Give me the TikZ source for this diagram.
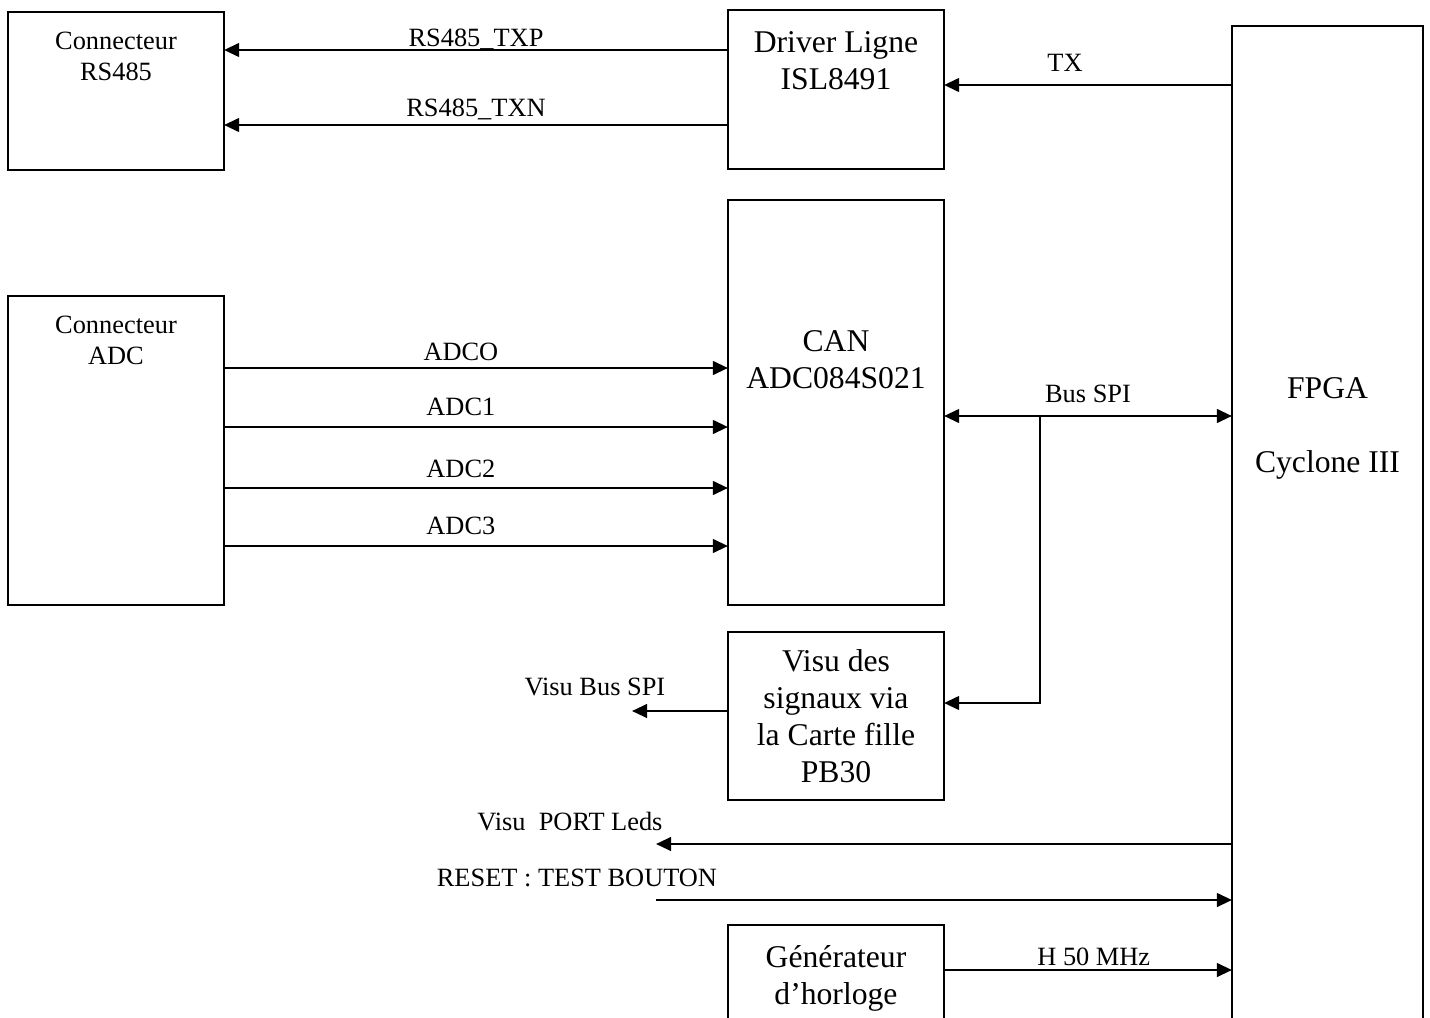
\documentclass[tikz,border=0pt]{standalone}
\usepackage{fontspec}
\setmainfont{Liberation Serif}
\usetikzlibrary{positioning, arrows.meta}

\begin{document}
\begin{tikzpicture}[
        x=0.01cm, y=-0.01cm,
        block/.style={draw, line width=0.6pt, inner sep=0pt, outer sep=0pt},
        bigtxt/.style={font=\fontsize{9}{10.5}\selectfont, align=center, inner sep=0pt},
        smalltxt/.style={font=\fontsize{7.5}{8.8}\selectfont, align=center, inner sep=0pt},
        sigtxt/.style={font=\fontsize{7.5}{8.8}\selectfont, inner sep=1pt},
        wire/.style={line width=0.65pt, -{Triangle[length=4.3pt, width=3.9pt]}},
        bus/.style={line width=0.65pt, {Triangle[length=4.3pt, width=3.9pt]}-{Triangle[length=4.3pt, width=3.9pt]}},
    ]
    \clip (0,0) rectangle (1430,1018);
    % BLOCKS
    \node[block, minimum width=2.16cm, minimum height=1.58cm] (rs) at (116,91) {};
    \node[block, minimum width=2.16cm, minimum height=1.59cm] (drv) at (836,89.5) {};
    \node[block, minimum width=1.91cm, minimum height=10.14cm] (fpga) at (1327.5,533) {};
    \node[block, minimum width=2.16cm, minimum height=4.05cm] (can) at (836,402.5) {};
    \node[block, minimum width=2.16cm, minimum height=3.09cm] (adcc) at (116,450.5) {};
    \node[block, minimum width=2.16cm, minimum height=1.68cm, bigtxt] (visu) at (836,716)
        {Visu des\\signaux via\\la Carte fille\\PB30};
    \node[block, minimum width=2.16cm, minimum height=1.15cm] (gen) at (836,982.5) {};
    % BLOCK TEXTS
    \node[smalltxt, below=0.19cm of rs.north] {Connecteur\\RS485};
    \node[bigtxt, below=0.21cm of drv.north] {Driver Ligne\\ISL8491};
    \node[bigtxt, below=3.51cm of fpga.north] {FPGA\\[10.5pt]Cyclone III};
    \node[bigtxt, below=1.3cm of can.north] {CAN\\ADC084S021};
    \node[smalltxt, below=0.19cm of adcc.north] {Connecteur\\ADC};
    \node[bigtxt, below=0.2cm of gen.north] {Générateur\\d’horloge};
    % RS485
    \draw[wire] (drv.west |- 0,50) -- (rs.east |- 0,50) node[sigtxt, midway, above=-1.2pt] {RS485\_TXP};
    \draw[wire] (drv.west |- 0,125) -- (rs.east |- 0,125) node[sigtxt, midway, above=0pt] {RS485\_TXN};
    \draw[wire] (fpga.west |- 0,85) -- (drv.east |- 0,85) node[sigtxt, pos=0.58, above=2.5pt] {TX};
    % ADC
    \foreach \y/\t/\d in {368/ADCO/0.6,427/ADC1/2,488/ADC2/1.5,546/ADC3/2}
        \draw[wire] (adcc.east |- 0,\y) -- (can.west |- 0,\y) node[sigtxt, pos=0.47, above=\d pt] {\t};
    % SPI
    \coordinate (spi) at (1040,416);
    \draw[bus] (can.east |- spi) -- (fpga.west |- spi) node[sigtxt, midway, above=2.5pt] {Bus SPI};
    \draw[wire] (spi) |- (visu.east |- 0,703);
    \coordinate (visuout) at (632,711);
    \draw[wire] (visu.west |- visuout) -- (visuout) node[sigtxt, above=3pt, xshift=-0.37cm] {Visu Bus SPI};
    % LEDS, RESET, CLOCK
    \coordinate (ledout) at (656,844);
    \draw[wire] (fpga.west |- ledout) -- (ledout) node[sigtxt, above=2.5pt, xshift=-0.86cm] {Visu\ \ PORT Leds};
    \coordinate (rstin) at (656,900);
    \draw[wire] (rstin) -- (fpga.west |- rstin) node[sigtxt, pos=0, above=2.5pt, xshift=-0.79cm] {RESET : TEST BOUTON};
    \draw[wire] (gen.east |- 0,970) -- (fpga.west |- 0,970) node[sigtxt, pos=0.52, above=0pt] {H 50 MHz};
\end{tikzpicture}
\end{document}
